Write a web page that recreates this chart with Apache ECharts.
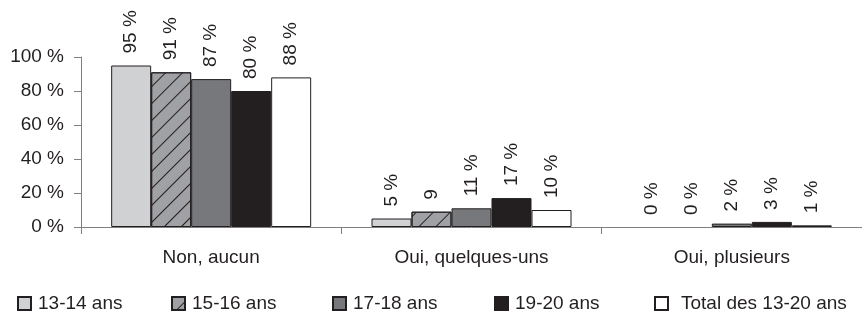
<!DOCTYPE html>
<html>
<head>
<meta charset="utf-8">
<script src="https://cdn.jsdelivr.net/npm/echarts@6/dist/echarts.min.js"></script>
<style>
  html, body { margin: 0; padding: 0; background: #fff; }
  #chart { width: 862px; height: 315px; }
</style>
</head>
<body>
<div id="chart"></div>
<script>
const categories = ["Non, aucun", "Oui, quelques-uns", "Oui, plusieurs"];
const seriesNames = ["13-14 ans", "15-16 ans", "17-18 ans", "19-20 ans", "Total des 13-20 ans"];
const age1314 = [95, 5, 0];
const age1516 = [91, 9, 0];
const age1718 = [87, 11, 2];
const age1920 = [80, 17, 3];
const total = [88, 10, 1];
// texte affiché au-dessus des barres (le "9" sans % est dans l'original)
const labels1516 = ["91 %", "9", "0 %"];
const yTicks = [0, 20, 40, 60, 80, 100];

const font = "Arial, 'Liberation Sans', sans-serif";
const ink = "#231f20";
const colors = ["#d0d1d3", "#a0a1a4", "#77787b", "#231f20", "#ffffff"];
const legendLeft = [12, 166, 327, 489, 649];

const chart = echarts.init(document.getElementById("chart"));

function makeSeries(name, data, idx, texts) {
  const s = {
    name: name,
    type: "bar",
    // pas de bordure pour les barres à 0
    data: data.map((v) => (v === 0 ? { value: v, itemStyle: { borderWidth: 0 } } : v)),
    barWidth: 40,
    barGap: "0%",
    itemStyle: {
      color: colors[idx],
      borderColor: ink,
      borderWidth: 1,
    },
    label: {
      show: true,
      position: "top",
      rotate: 90,
      align: "left",
      verticalAlign: "middle",
      distance: 12,
      fontFamily: font,
      fontSize: 19,
      color: ink,
      formatter: (p) => (texts ? texts[p.dataIndex] : p.value + " %"),
    },
  };
  if (idx === 1) {
    s.itemStyle.decal = {
      symbol: "rect",
      color: ink,
      dashArrayX: [1, 0],
      dashArrayY: [1, 11],
      rotation: -Math.PI / 4,
    };
  }
  return s;
}

const option = {
  animation: false,
  grid: {
    left: 81,
    right: 0,
    top: 57,
    bottom: 88,
  },
  legend: seriesNames.map((n, i) => ({
    data: [n],
    left: legendLeft[i],
    top: 289,
    itemWidth: 13,
    itemHeight: 13,
    icon: "rect",
    textStyle: {
      fontFamily: font,
      fontSize: 19,
      color: ink,
      padding: i === 4 ? [0, 0, 0, 8] : [0, 0, 0, 2],
    },
  })),
  xAxis: {
    type: "category",
    data: categories,
    axisLine: { lineStyle: { color: "#808080", width: 1 } },
    axisTick: { show: true, length: 7, lineStyle: { color: "#808080" } },
    axisLabel: {
      margin: 21,
      fontFamily: font,
      fontSize: 19,
      color: ink,
    },
  },
  yAxis: {
    type: "value",
    min: yTicks[0],
    max: yTicks[yTicks.length - 1],
    interval: 20,
    axisLine: { show: true, lineStyle: { color: "#808080", width: 1 } },
    axisTick: { show: true, length: 7, lineStyle: { color: "#808080" } },
    splitLine: { show: false },
    axisLabel: {
      margin: 17,
      fontFamily: font,
      fontSize: 19,
      color: ink,
      formatter: "{value} %",
    },
  },
  series: [
    makeSeries(seriesNames[0], age1314, 0),
    makeSeries(seriesNames[1], age1516, 1, labels1516),
    makeSeries(seriesNames[2], age1718, 2),
    makeSeries(seriesNames[3], age1920, 3),
    makeSeries(seriesNames[4], total, 4),
  ],
};

chart.setOption(option);
</script>
</body>
</html>
